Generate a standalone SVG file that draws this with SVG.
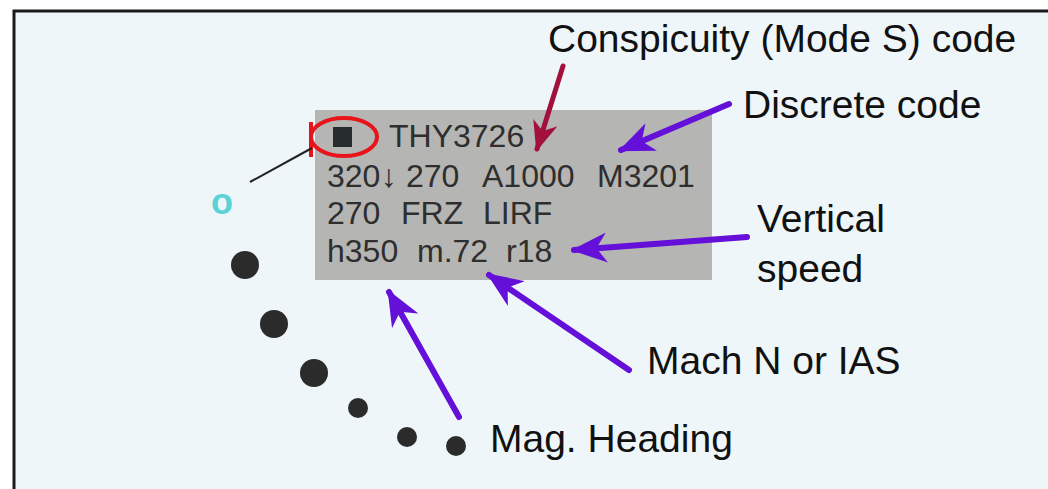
<svg xmlns="http://www.w3.org/2000/svg" width="1048" height="489" viewBox="0 0 1048 489">
<defs>
<style>
.lbl{font-family:"Liberation Sans",Arial,sans-serif;font-size:39px;fill:#111}
.tag{font-family:"Liberation Sans","DejaVu Sans",sans-serif;font-size:32px;fill:#2e2e2e}
.pa{stroke:#6410d8;stroke-width:6;fill:none;stroke-linecap:round}
.ra{stroke:#a3103c;stroke-width:5;fill:none;stroke-linecap:round}
.dot{fill:#2b2b2b}
</style>
<marker id="hp" viewBox="0 0 12 10" refX="11" refY="5" markerWidth="6" markerHeight="5" orient="auto" markerUnits="strokeWidth">
<path d="M0,0 L12,5 L0,10 L3.5,5 Z" fill="#6410d8"/>
</marker>
<marker id="hr" viewBox="0 0 12 10" refX="11" refY="5" markerWidth="6" markerHeight="5" orient="auto" markerUnits="strokeWidth">
<path d="M0,0 L12,5 L0,10 L3.5,5 Z" fill="#a3103c"/>
</marker>
</defs>
<rect width="1048" height="489" fill="#ffffff"/>
<rect x="14" y="11" width="1050" height="490" fill="#eef6f9" stroke="#1a1a1a" stroke-width="3"/>

<g id="label-box">
<rect x="315" y="110" width="397" height="170" fill="#b5b5b3"/>
<rect x="333" y="127" width="19" height="20" fill="#262b2e"/>
<text class="tag" x="389" y="147">THY3726</text>
<text class="tag" y="187"><tspan x="327">320</tspan><tspan x="381">↓</tspan><tspan x="406">270</tspan><tspan x="482">A1000</tspan><tspan x="597">M3201</tspan></text>
<text class="tag" y="224"><tspan x="327">270</tspan><tspan x="401">FRZ</tspan><tspan x="483">LIRF</tspan></text>
<text class="tag" y="262" fill="#1e1e1e"><tspan x="327">h350</tspan><tspan x="417">m.72</tspan><tspan x="506">r18</tspan></text>
</g>

<g id="highlight">
<ellipse cx="344" cy="137" rx="33" ry="19" fill="none" stroke="#e8141c" stroke-width="4"/>
<line x1="311" y1="122" x2="311" y2="157" stroke="#e8141c" stroke-width="4"/>
</g>

<g id="target">
<line x1="250" y1="182" x2="312" y2="148" stroke="#222" stroke-width="2"/>
<text x="222" y="214" font-family="Liberation Sans,Arial,sans-serif" font-size="36" font-weight="bold" fill="#5ad2d6" text-anchor="middle">o</text>
<circle class="dot" cx="245" cy="265" r="14"/>
<circle class="dot" cx="274" cy="324" r="14"/>
<circle class="dot" cx="314" cy="373" r="14"/>
<circle class="dot" cx="358" cy="408" r="10"/>
<circle class="dot" cx="407" cy="437" r="10"/>
<circle class="dot" cx="456" cy="446" r="10"/>
</g>

<g id="connectors">
<line class="ra" x1="563" y1="66" x2="537" y2="149" marker-end="url(#hr)"/>
<line class="pa" x1="729" y1="104" x2="621" y2="150" marker-end="url(#hp)"/>
<line class="pa" x1="747" y1="237" x2="574" y2="250" marker-end="url(#hp)"/>
<line class="pa" x1="629" y1="370" x2="489" y2="275" marker-end="url(#hp)"/>
<line class="pa" x1="459" y1="417" x2="389" y2="292" marker-end="url(#hp)"/>
</g>

<g id="labels">
<text class="lbl" x="548" y="52">Conspicuity (Mode S) code</text>
<text class="lbl" x="743" y="118">Discrete code</text>
<text class="lbl" x="757" y="232">Vertical</text>
<text class="lbl" x="757" y="282">speed</text>
<text class="lbl" x="647" y="374">Mach N or IAS</text>
<text class="lbl" x="490" y="452">Mag. Heading</text>
</g>
</svg>
